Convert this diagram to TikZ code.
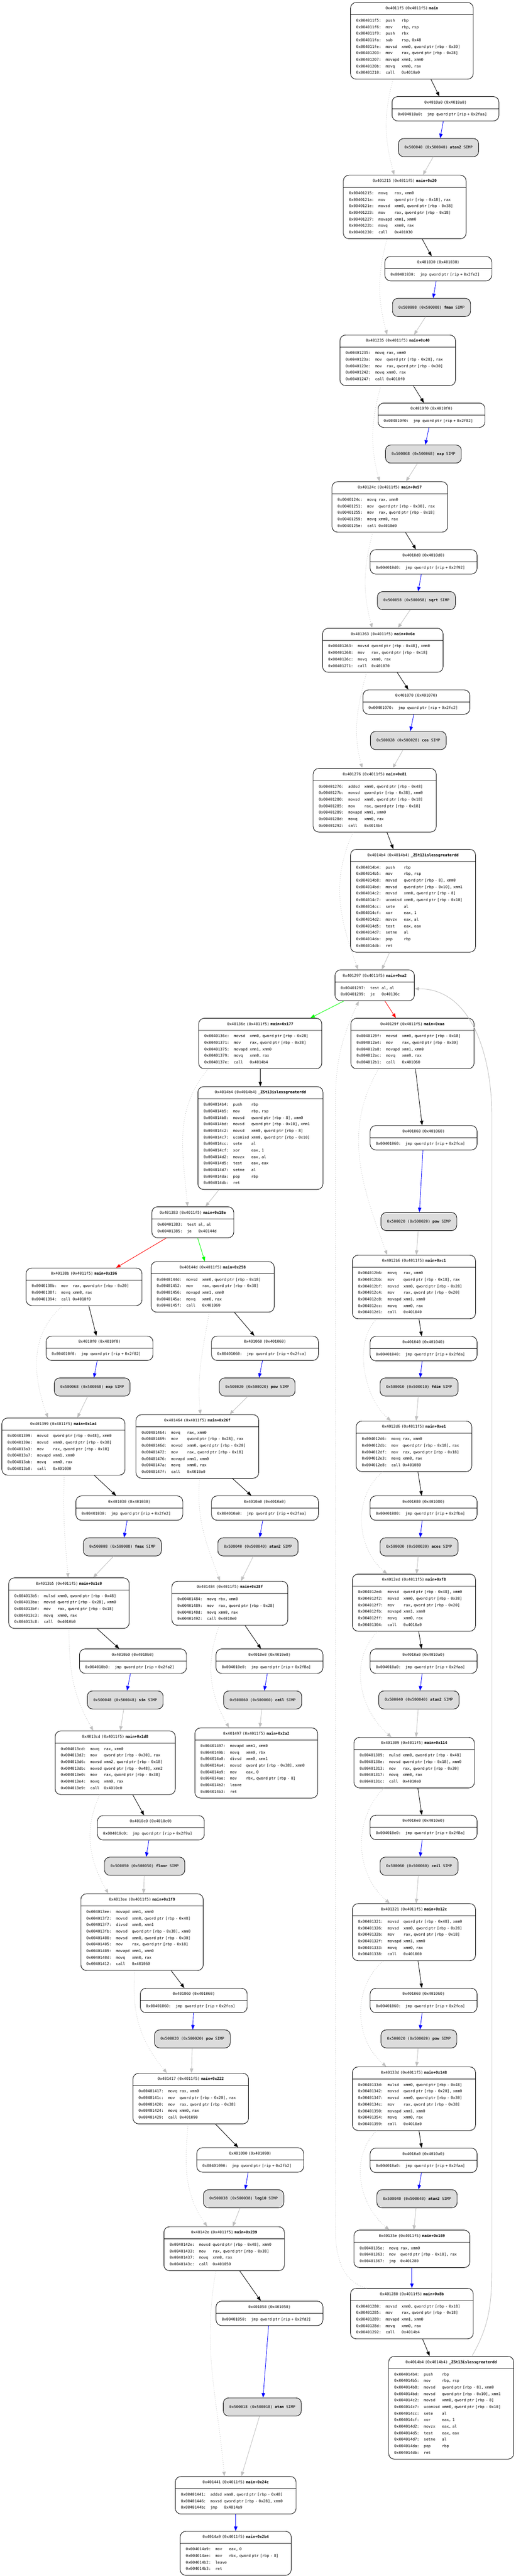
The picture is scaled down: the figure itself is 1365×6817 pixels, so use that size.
\documentclass[tikz,border=0pt]{standalone}
\usepackage{fontspec}
\setmonofont{DejaVu Sans Mono}
\usetikzlibrary{positioning,shapes.multipart,arrows.meta}

\definecolor{simpgray}{HTML}{DCDCDC}
\definecolor{edgegray}{HTML}{C0C0C0}
\definecolor{jmpblue}{HTML}{0000FF}
\definecolor{truegreen}{HTML}{00FF00}
\definecolor{falsered}{HTML}{FF0000}

\newlength\chw
\newcommand\blkfont{\ttfamily\fontsize{10}{17.3}\selectfont}
\newcommand\hd[1]{\makebox[\hsize]{\rule[-13pt]{0pt}{31pt}#1}}
\newcommand\asm[1]{\settowidth\chw{0}%
  \begin{tabular}{@{}l@{\hspace{2\chw}}l@{\hspace{\chw}}l@{}}%
  \rule{0pt}{18.3pt}\ignorespaces#1\unskip\rule[-12.9pt]{0pt}{12.9pt}\end{tabular}}

\begin{document}
\begin{tikzpicture}[
                x=1pt, y=1pt,
                block/.style={rectangle split, rectangle split parts=2, draw, line width=1.2pt,
                    rounded corners=15pt, inner xsep=15pt, inner ysep=0pt, anchor=north, font=\blkfont},
                stub/.style={block, text width=253pt},
                simp/.style={draw, line width=1.2pt, fill=simpgray, rounded corners=14pt,
                    minimum height=48pt, inner xsep=16pt, inner ysep=0pt, anchor=north, font=\blkfont},
                arr/.style={line width=1.2pt, -{Triangle[length=12pt,width=9pt]}},
                calledge/.style={arr, black},
                jmpedge/.style={arr, jmpblue},
                retedge/.style={arr, edgegray},
                falledge/.style={arr, edgegray, dash pattern=on 1.3pt off 4pt},
                trueedge/.style={arr, truegreen},
                falseedge/.style={arr, falsered}
            ]
                \fill[white] (0,0) rectangle (1365,-6817);
                \useasboundingbox (0,0) rectangle (1365,-6817);

                % main chain
                \node (main) [block, text width=295pt] at (1090.5,-6) {\hd{0x4011f5 (0x4011f5) \textbf{main}}\nodepart{two}\asm{
                    0x004011f5: & push & rbp\\
                    0x004011f6: & mov & rbp, rsp\\
                    0x004011f9: & push & rbx\\
                    0x004011fa: & sub & rsp, 0x48\\
                    0x004011fe: & movsd & xmm0, qword ptr [rbp - 0x30]\\
                    0x00401203: & mov & rax, qword ptr [rbp - 0x28]\\
                    0x00401207: & movapd & xmm1, xmm0\\
                    0x0040120b: & movq & xmm0, rax\\
                    0x00401210: & call & 0x4010a0}};
                \node (mainP) [stub] at (1179.5,-255) {\hd{0x4010a0 (0x4010a0)}\nodepart{two}\asm{0x004010a0: & jmp & qword ptr [rip + 0x2faa]}};
                \node (mainS) [simp] at (1161,-366) {0x500040 (0x500040) \textbf{atan2} SIMP};

                \node (m20) [block, text width=295pt] at (1071.5,-463) {\hd{0x401215 (0x4011f5) \textbf{main+0x20}}\nodepart{two}\asm{
                    0x00401215: & movq & rax, xmm0\\
                    0x0040121a: & mov & qword ptr [rbp - 0x18], rax\\
                    0x0040121e: & movsd & xmm0, qword ptr [rbp - 0x38]\\
                    0x00401223: & mov & rax, qword ptr [rbp - 0x18]\\
                    0x00401227: & movapd & xmm1, xmm0\\
                    0x0040122b: & movq & xmm0, rax\\
                    0x00401230: & call & 0x401030}};
                \node (m20P) [stub] at (1160.5,-678) {\hd{0x401030 (0x401030)}\nodepart{two}\asm{0x00401030: & jmp & qword ptr [rip + 0x2fe2]}};
                \node (m20S) [simp] at (1142.5,-789) {0x500008 (0x500008) \textbf{fmax} SIMP};

                \node (m40) [block, text width=276pt] at (1053,-886) {\hd{0x401235 (0x4011f5) \textbf{main+0x40}}\nodepart{two}\asm{
                    0x00401235: & movq & rax, xmm0\\
                    0x0040123a: & mov & qword ptr [rbp - 0x28], rax\\
                    0x0040123e: & mov & rax, qword ptr [rbp - 0x30]\\
                    0x00401242: & movq & xmm0, rax\\
                    0x00401247: & call & 0x4010f0}};
                \node (m40P) [stub] at (1142.5,-1066) {\hd{0x4010f0 (0x4010f0)}\nodepart{two}\asm{0x004010f0: & jmp & qword ptr [rip + 0x2f82]}};
                \node (m40S) [simp] at (1121,-1177) {0x500068 (0x500068) \textbf{exp} SIMP};

                \node (m57) [block, text width=276pt] at (1032,-1274) {\hd{0x40124c (0x4011f5) \textbf{main+0x57}}\nodepart{two}\asm{
                    0x0040124c: & movq & rax, xmm0\\
                    0x00401251: & mov & qword ptr [rbp - 0x30], rax\\
                    0x00401255: & mov & rax, qword ptr [rbp - 0x18]\\
                    0x00401259: & movq & xmm0, rax\\
                    0x0040125e: & call & 0x4010d0}};
                \node (m57P) [stub] at (1121.5,-1454) {\hd{0x4010d0 (0x4010d0)}\nodepart{two}\asm{0x004010d0: & jmp & qword ptr [rip + 0x2f92]}};
                \node (m57S) [simp] at (1102.5,-1565) {0x500058 (0x500058) \textbf{sqrt} SIMP};

                \node (m6e) [block, text width=289pt] at (1013.5,-1662) {\hd{0x401263 (0x4011f5) \textbf{main+0x6e}}\nodepart{two}\asm{
                    0x00401263: & movsd & qword ptr [rbp - 0x48], xmm0\\
                    0x00401268: & mov & rax, qword ptr [rbp - 0x18]\\
                    0x0040126c: & movq & xmm0, rax\\
                    0x00401271: & call & 0x401070}};
                \node (m6eP) [stub] at (1102.5,-1825) {\hd{0x401070 (0x401070)}\nodepart{two}\asm{0x00401070: & jmp & qword ptr [rip + 0x2fc2]}};
                \node (m6eS) [simp] at (1081,-1935) {0x500028 (0x500028) \textbf{cos} SIMP};

                \node (m81) [block, text width=296pt] at (992,-2033) {\hd{0x401276 (0x4011f5) \textbf{main+0x81}}\nodepart{two}\asm{
                    0x00401276: & addsd & xmm0, qword ptr [rbp - 0x48]\\
                    0x0040127b: & movsd & qword ptr [rbp - 0x38], xmm0\\
                    0x00401280: & movsd & xmm0, qword ptr [rbp - 0x18]\\
                    0x00401285: & mov & rax, qword ptr [rbp - 0x18]\\
                    0x00401289: & movapd & xmm1, xmm0\\
                    0x0040128d: & movq & xmm0, rax\\
                    0x00401292: & call & 0x4014b4}};
                \node (zA) [block, text width=301pt] at (1093.5,-2247) {\hd{0x4014b4 (0x4014b4) \textbf{\_ZSt13islessgreaterdd}}\nodepart{two}\asm{
                    0x004014b4: & push & rbp\\
                    0x004014b5: & mov & rbp, rsp\\
                    0x004014b8: & movsd & qword ptr [rbp - 8], xmm0\\
                    0x004014bd: & movsd & qword ptr [rbp - 0x10], xmm1\\
                    0x004014c2: & movsd & xmm0, qword ptr [rbp - 8]\\
                    0x004014c7: & ucomisd & xmm0, qword ptr [rbp - 0x10]\\
                    0x004014cc: & sete & al\\
                    0x004014cf: & xor & eax, 1\\
                    0x004014d2: & movzx & eax, al\\
                    0x004014d5: & test & eax, eax\\
                    0x004014d7: & setne & al\\
                    0x004014da: & pop & rbp\\
                    0x004014db: & ret}};
                \node (ma2) [block, text width=180pt] at (992,-2566) {\hd{0x401297 (0x4011f5) \textbf{main+0xa2}}\nodepart{two}\asm{
                    0x00401297: & test & al, al\\
                    0x00401299: & je & 0x40136c}};

                % loop body
                \node (maa) [block, text width=296pt] at (1092,-2694) {\hd{0x40129f (0x4011f5) \textbf{main+0xaa}}\nodepart{two}\asm{
                    0x0040129f: & movsd & xmm0, qword ptr [rbp - 0x18]\\
                    0x004012a4: & mov & rax, qword ptr [rbp - 0x30]\\
                    0x004012a8: & movapd & xmm1, xmm0\\
                    0x004012ac: & movq & xmm0, rax\\
                    0x004012b1: & call & 0x401060}};
                \node (maaP) [stub] at (1121.5,-2978) {\hd{0x401060 (0x401060)}\nodepart{two}\asm{0x00401060: & jmp & qword ptr [rip + 0x2fca]}};
                \node (maaS) [simp] at (1109,-3208) {0x500020 (0x500020) \textbf{pow} SIMP};

                \node (mc1) [block, text width=296pt] at (1096,-3321) {\hd{0x4012b6 (0x4011f5) \textbf{main+0xc1}}\nodepart{two}\asm{
                    0x004012b6: & movq & rax, xmm0\\
                    0x004012bb: & mov & qword ptr [rbp - 0x18], rax\\
                    0x004012bf: & movsd & xmm0, qword ptr [rbp - 0x28]\\
                    0x004012c4: & mov & rax, qword ptr [rbp - 0x20]\\
                    0x004012c8: & movapd & xmm1, xmm0\\
                    0x004012cc: & movq & xmm0, rax\\
                    0x004012d1: & call & 0x401040}};
                \node (mc1P) [stub] at (1121.5,-3536) {\hd{0x401040 (0x401040)}\nodepart{two}\asm{0x00401040: & jmp & qword ptr [rip + 0x2fda]}};
                \node (mc1S) [simp] at (1109.5,-3646) {0x500010 (0x500010) \textbf{fdim} SIMP};

                \node (me1) [block, text width=276pt] at (1096,-3760) {\hd{0x4012d6 (0x4011f5) \textbf{main+0xe1}}\nodepart{two}\asm{
                    0x004012d6: & movq & rax, xmm0\\
                    0x004012db: & mov & qword ptr [rbp - 0x18], rax\\
                    0x004012df: & mov & rax, qword ptr [rbp - 0x18]\\
                    0x004012e3: & movq & xmm0, rax\\
                    0x004012e8: & call & 0x401080}};
                \node (me1P) [stub] at (1121.5,-3958) {\hd{0x401080 (0x401080)}\nodepart{two}\asm{0x00401080: & jmp & qword ptr [rip + 0x2fba]}};
                \node (me1S) [simp] at (1109.5,-4069) {0x500030 (0x500030) \textbf{acos} SIMP};

                \node (mf8) [block, text width=296pt] at (1096,-4165) {\hd{0x4012ed (0x4011f5) \textbf{main+0xf8}}\nodepart{two}\asm{
                    0x004012ed: & movsd & qword ptr [rbp - 0x48], xmm0\\
                    0x004012f2: & movsd & xmm0, qword ptr [rbp - 0x38]\\
                    0x004012f7: & mov & rax, qword ptr [rbp - 0x20]\\
                    0x004012fb: & movapd & xmm1, xmm0\\
                    0x004012ff: & movq & xmm0, rax\\
                    0x00401304: & call & 0x4010a0}};
                \node (mf8P) [stub] at (1121.5,-4363) {\hd{0x4010a0 (0x4010a0)}\nodepart{two}\asm{0x004010a0: & jmp & qword ptr [rip + 0x2faa]}};
                \node (mf8S) [simp] at (1109,-4474) {0x500040 (0x500040) \textbf{atan2} SIMP};

                \node (m114) [block, text width=289pt] at (1096.5,-4597) {\hd{0x401309 (0x4011f5) \textbf{main+0x114}}\nodepart{two}\asm{
                    0x00401309: & mulsd & xmm0, qword ptr [rbp - 0x48]\\
                    0x0040130e: & movsd & qword ptr [rbp - 0x18], xmm0\\
                    0x00401313: & mov & rax, qword ptr [rbp - 0x30]\\
                    0x00401317: & movq & xmm0, rax\\
                    0x0040131c: & call & 0x4010e0}};
                \node (m114P) [stub] at (1121.5,-4803) {\hd{0x4010e0 (0x4010e0)}\nodepart{two}\asm{0x004010e0: & jmp & qword ptr [rip + 0x2f8a]}};
                \node (m114S) [simp] at (1109.5,-4914) {0x500060 (0x500060) \textbf{ceil} SIMP};

                \node (m12c) [block, text width=296pt] at (1096,-5037) {\hd{0x401321 (0x4011f5) \textbf{main+0x12c}}\nodepart{two}\asm{
                    0x00401321: & movsd & qword ptr [rbp - 0x48], xmm0\\
                    0x00401326: & movsd & xmm0, qword ptr [rbp - 0x28]\\
                    0x0040132b: & mov & rax, qword ptr [rbp - 0x18]\\
                    0x0040132f: & movapd & xmm1, xmm0\\
                    0x00401333: & movq & xmm0, rax\\
                    0x00401338: & call & 0x401060}};
                \node (m12cP) [stub] at (1121.5,-5261) {\hd{0x401060 (0x401060)}\nodepart{two}\asm{0x00401060: & jmp & qword ptr [rip + 0x2fca]}};
                \node (m12cS) [simp] at (1109,-5371) {0x500020 (0x500020) \textbf{pow} SIMP};

                \node (m148) [block, text width=296pt] at (1096,-5469) {\hd{0x40133d (0x4011f5) \textbf{main+0x148}}\nodepart{two}\asm{
                    0x0040133d: & mulsd & xmm0, qword ptr [rbp - 0x48]\\
                    0x00401342: & movsd & qword ptr [rbp - 0x20], xmm0\\
                    0x00401347: & movsd & xmm0, qword ptr [rbp - 0x30]\\
                    0x0040134c: & mov & rax, qword ptr [rbp - 0x38]\\
                    0x00401350: & movapd & xmm1, xmm0\\
                    0x00401354: & movq & xmm0, rax\\
                    0x00401359: & call & 0x4010a0}};
                \node (m148P) [stub] at (1121.5,-5684) {\hd{0x4010a0 (0x4010a0)}\nodepart{two}\asm{0x004010a0: & jmp & qword ptr [rip + 0x2faa]}};
                \node (m148S) [simp] at (1104,-5794) {0x500040 (0x500040) \textbf{atan2} SIMP};

                \node (m169) [block, text width=277pt] at (1090.5,-5901) {\hd{0x40135e (0x4011f5) \textbf{main+0x169}}\nodepart{two}\asm{
                    0x0040135e: & movq & rax, xmm0\\
                    0x00401363: & mov & qword ptr [rbp - 0x18], rax\\
                    0x00401367: & jmp & 0x401280}};
                \node (m8b) [block, text width=295pt] at (1090.5,-6055) {\hd{0x401280 (0x4011f5) \textbf{main+0x8b}}\nodepart{two}\asm{
                    0x00401280: & movsd & xmm0, qword ptr [rbp - 0x18]\\
                    0x00401285: & mov & rax, qword ptr [rbp - 0x18]\\
                    0x00401289: & movapd & xmm1, xmm0\\
                    0x0040128d: & movq & xmm0, rax\\
                    0x00401292: & call & 0x4014b4}};
                \node (zC) [block, text width=301pt] at (1194.5,-6235) {\hd{0x4014b4 (0x4014b4) \textbf{\_ZSt13islessgreaterdd}}\nodepart{two}\asm{
                    0x004014b4: & push & rbp\\
                    0x004014b5: & mov & rbp, rsp\\
                    0x004014b8: & movsd & qword ptr [rbp - 8], xmm0\\
                    0x004014bd: & movsd & qword ptr [rbp - 0x10], xmm1\\
                    0x004014c2: & movsd & xmm0, qword ptr [rbp - 8]\\
                    0x004014c7: & ucomisd & xmm0, qword ptr [rbp - 0x10]\\
                    0x004014cc: & sete & al\\
                    0x004014cf: & xor & eax, 1\\
                    0x004014d2: & movzx & eax, al\\
                    0x004014d5: & test & eax, eax\\
                    0x004014d7: & setne & al\\
                    0x004014da: & pop & rbp\\
                    0x004014db: & ret}};

                % after the loop
                \node (m177) [block, text width=296pt] at (689,-2694) {\hd{0x40136c (0x4011f5) \textbf{main+0x177}}\nodepart{two}\asm{
                    0x0040136c: & movsd & xmm0, qword ptr [rbp - 0x28]\\
                    0x00401371: & mov & rax, qword ptr [rbp - 0x38]\\
                    0x00401375: & movapd & xmm1, xmm0\\
                    0x00401379: & movq & xmm0, rax\\
                    0x0040137e: & call & 0x4014b4}};
                \node (zB) [block, text width=301pt] at (689.5,-2875) {\hd{0x4014b4 (0x4014b4) \textbf{\_ZSt13islessgreaterdd}}\nodepart{two}\asm{
                    0x004014b4: & push & rbp\\
                    0x004014b5: & mov & rbp, rsp\\
                    0x004014b8: & movsd & qword ptr [rbp - 8], xmm0\\
                    0x004014bd: & movsd & qword ptr [rbp - 0x10], xmm1\\
                    0x004014c2: & movsd & xmm0, qword ptr [rbp - 8]\\
                    0x004014c7: & ucomisd & xmm0, qword ptr [rbp - 0x10]\\
                    0x004014cc: & sete & al\\
                    0x004014cf: & xor & eax, 1\\
                    0x004014d2: & movzx & eax, al\\
                    0x004014d5: & test & eax, eax\\
                    0x004014d7: & setne & al\\
                    0x004014da: & pop & rbp\\
                    0x004014db: & ret}};
                \node (m18e) [block, text width=187pt] at (510.5,-3193) {\hd{0x401383 (0x4011f5) \textbf{main+0x18e}}\nodepart{two}\asm{
                    0x00401383: & test & al, al\\
                    0x00401385: & je & 0x40144d}};

                \node (m196) [block, text width=277pt] at (222.5,-3355) {\hd{0x40138b (0x4011f5) \textbf{main+0x196}}\nodepart{two}\asm{
                    0x0040138b: & mov & rax, qword ptr [rbp - 0x20]\\
                    0x0040138f: & movq & xmm0, rax\\
                    0x00401394: & call & 0x4010f0}};
                \node (m196P) [stub] at (263.5,-3535) {\hd{0x4010f0 (0x4010f0)}\nodepart{two}\asm{0x004010f0: & jmp & qword ptr [rip + 0x2f82]}};
                \node (m196S) [simp] at (244,-3646) {0x500068 (0x500068) \textbf{exp} SIMP};

                \node (m1a4) [block, text width=296pt] at (168,-3752) {\hd{0x401399 (0x4011f5) \textbf{main+0x1a4}}\nodepart{two}\asm{
                    0x00401399: & movsd & qword ptr [rbp - 0x48], xmm0\\
                    0x0040139e: & movsd & xmm0, qword ptr [rbp - 0x38]\\
                    0x004013a3: & mov & rax, qword ptr [rbp - 0x18]\\
                    0x004013a7: & movapd & xmm1, xmm0\\
                    0x004013ab: & movq & xmm0, rax\\
                    0x004013b0: & call & 0x401030}};
                \node (m1a4P) [stub] at (342.5,-3958) {\hd{0x401030 (0x401030)}\nodepart{two}\asm{0x00401030: & jmp & qword ptr [rip + 0x2fe2]}};
                \node (m1a4S) [simp] at (324,-4069) {0x500008 (0x500008) \textbf{fmax} SIMP};

                \node (m1c0) [block, text width=289pt] at (182.5,-4175) {\hd{0x4013b5 (0x4011f5) \textbf{main+0x1c0}}\nodepart{two}\asm{
                    0x004013b5: & mulsd & xmm0, qword ptr [rbp - 0x48]\\
                    0x004013ba: & movsd & qword ptr [rbp - 0x28], xmm0\\
                    0x004013bf: & mov & rax, qword ptr [rbp - 0x18]\\
                    0x004013c3: & movq & xmm0, rax\\
                    0x004013c8: & call & 0x4010b0}};
                \node (m1c0P) [stub] at (352,-4363) {\hd{0x4010b0 (0x4010b0)}\nodepart{two}\asm{0x004010b0: & jmp & qword ptr [rip + 0x2fa2]}};
                \node (m1c0S) [simp] at (331.5,-4474) {0x500048 (0x500048) \textbf{sin} SIMP};

                \node (m1d8) [block, text width=288pt] at (305,-4580) {\hd{0x4013cd (0x4011f5) \textbf{main+0x1d8}}\nodepart{two}\asm{
                    0x004013cd: & movq & rax, xmm0\\
                    0x004013d2: & mov & qword ptr [rbp - 0x30], rax\\
                    0x004013d6: & movsd & xmm2, qword ptr [rbp - 0x18]\\
                    0x004013db: & movsd & qword ptr [rbp - 0x48], xmm2\\
                    0x004013e0: & mov & rax, qword ptr [rbp - 0x38]\\
                    0x004013e4: & movq & xmm0, rax\\
                    0x004013e9: & call & 0x4010c0}};
                \node (m1d8P) [stub] at (399.5,-4804) {\hd{0x4010c0 (0x4010c0)}\nodepart{two}\asm{0x004010c0: & jmp & qword ptr [rip + 0x2f9a]}};
                \node (m1d8S) [simp] at (383,-4914) {0x500050 (0x500050) \textbf{floor} SIMP};

                \node (m1f9) [block, text width=294pt] at (376,-5011) {\hd{0x4013ee (0x4011f5) \textbf{main+0x1f9}}\nodepart{two}\asm{
                    0x004013ee: & movapd & xmm1, xmm0\\
                    0x004013f2: & movsd & xmm0, qword ptr [rbp - 0x48]\\
                    0x004013f7: & divsd & xmm0, xmm1\\
                    0x004013fb: & movsd & qword ptr [rbp - 0x38], xmm0\\
                    0x00401400: & movsd & xmm0, qword ptr [rbp - 0x30]\\
                    0x00401405: & mov & rax, qword ptr [rbp - 0x18]\\
                    0x00401409: & movapd & xmm1, xmm0\\
                    0x0040140d: & movq & xmm0, rax\\
                    0x00401412: & call & 0x401060}};
                \node (m1f9P) [stub] at (513,-5261) {\hd{0x401060 (0x401060)}\nodepart{two}\asm{0x00401060: & jmp & qword ptr [rip + 0x2fca]}};
                \node (m1f9S) [simp] at (509.5,-5371) {0x500020 (0x500020) \textbf{pow} SIMP};

                \node (m222) [block, text width=276pt] at (505,-5486) {\hd{0x401417 (0x4011f5) \textbf{main+0x222}}\nodepart{two}\asm{
                    0x00401417: & movq & rax, xmm0\\
                    0x0040141c: & mov & qword ptr [rbp - 0x20], rax\\
                    0x00401420: & mov & rax, qword ptr [rbp - 0x38]\\
                    0x00401424: & movq & xmm0, rax\\
                    0x00401429: & call & 0x401090}};
                \node (m222P) [stub] at (662.5,-5683) {\hd{0x401090 (0x401090)}\nodepart{two}\asm{0x00401090: & jmp & qword ptr [rip + 0x2fb2]}};
                \node (m222S) [simp] at (645,-5794) {0x500038 (0x500038) \textbf{log10} SIMP};

                \node (m239) [block, text width=289pt] at (593.5,-5892) {\hd{0x40142e (0x4011f5) \textbf{main+0x239}}\nodepart{two}\asm{
                    0x0040142e: & movsd & qword ptr [rbp - 0x48], xmm0\\
                    0x00401433: & mov & rax, qword ptr [rbp - 0x38]\\
                    0x00401437: & movq & xmm0, rax\\
                    0x0040143c: & call & 0x401050}};
                \node (m239P) [stub] at (713.5,-6089) {\hd{0x401050 (0x401050)}\nodepart{two}\asm{0x00401050: & jmp & qword ptr [rip + 0x2fd2]}};
                \node (m239S) [simp] at (694.5,-6345) {0x500018 (0x500018) \textbf{atan} SIMP};

                \node (m24c) [block, text width=290pt] at (624,-6553) {\hd{0x401441 (0x4011f5) \textbf{main+0x24c}}\nodepart{two}\asm{
                    0x00401441: & addsd & xmm0, qword ptr [rbp - 0x48]\\
                    0x00401446: & movsd & qword ptr [rbp - 0x28], xmm0\\
                    0x0040144b: & jmp & 0x4014a9}};
                \node (m2b4) [block, text width=264pt] at (624,-6698) {\hd{0x4014a9 (0x4011f5) \textbf{main+0x2b4}}\nodepart{two}\asm{
                    0x004014a9: & mov & eax, 0\\
                    0x004014ae: & mov & rbx, qword ptr [rbp - 8]\\
                    0x004014b2: & leave & \\
                    0x004014b3: & ret & }};

                \node (m258) [block, text width=296pt] at (563,-3338) {\hd{0x40144d (0x4011f5) \textbf{main+0x258}}\nodepart{two}\asm{
                    0x0040144d: & movsd & xmm0, qword ptr [rbp - 0x18]\\
                    0x00401452: & mov & rax, qword ptr [rbp - 0x38]\\
                    0x00401456: & movapd & xmm1, xmm0\\
                    0x0040145a: & movq & xmm0, rax\\
                    0x0040145f: & call & 0x401060}};
                \node (m258P) [stub] at (701.5,-3535) {\hd{0x401060 (0x401060)}\nodepart{two}\asm{0x00401060: & jmp & qword ptr [rip + 0x2fca]}};
                \node (m258S) [simp] at (681,-3646) {0x500020 (0x500020) \textbf{pow} SIMP};

                \node (m26f) [block, text width=295pt] at (522.5,-3743) {\hd{0x401464 (0x4011f5) \textbf{main+0x26f}}\nodepart{two}\asm{
                    0x00401464: & movq & rax, xmm0\\
                    0x00401469: & mov & qword ptr [rbp - 0x28], rax\\
                    0x0040146d: & movsd & xmm0, qword ptr [rbp - 0x20]\\
                    0x00401472: & mov & rax, qword ptr [rbp - 0x18]\\
                    0x00401476: & movapd & xmm1, xmm0\\
                    0x0040147a: & movq & xmm0, rax\\
                    0x0040147f: & call & 0x4010a0}};
                \node (m26fP) [stub] at (701.5,-3958) {\hd{0x4010a0 (0x4010a0)}\nodepart{two}\asm{0x004010a0: & jmp & qword ptr [rip + 0x2faa]}};
                \node (m26fS) [simp] at (683,-4069) {0x500040 (0x500040) \textbf{atan2} SIMP};

                \node (m28f) [block, text width=277pt] at (608.5,-4184) {\hd{0x401484 (0x4011f5) \textbf{main+0x28f}}\nodepart{two}\asm{
                    0x00401484: & movq & rbx, xmm0\\
                    0x00401489: & mov & rax, qword ptr [rbp - 0x28]\\
                    0x0040148d: & movq & xmm0, rax\\
                    0x00401492: & call & 0x4010e0}};
                \node (m28fP) [stub] at (713.5,-4363) {\hd{0x4010e0 (0x4010e0)}\nodepart{two}\asm{0x004010e0: & jmp & qword ptr [rip + 0x2f8a]}};
                \node (m28fS) [simp] at (695.5,-4474) {0x500060 (0x500060) \textbf{ceil} SIMP};

                \node (m2a2) [block, text width=295pt] at (678.5,-4572) {\hd{0x401497 (0x4011f5) \textbf{main+0x2a2}}\nodepart{two}\asm{
                    0x00401497: & movapd & xmm1, xmm0\\
                    0x0040149b: & movq & xmm0, rbx\\
                    0x004014a0: & divsd & xmm0, xmm1\\
                    0x004014a4: & movsd & qword ptr [rbp - 0x38], xmm0\\
                    0x004014a9: & mov & eax, 0\\
                    0x004014ae: & mov & rbx, qword ptr [rbp - 8]\\
                    0x004014b2: & leave & \\
                    0x004014b3: & ret & }};

                \coordinate (fbA) at (888,-5900);
                \coordinate (fbB) at (888,-2920);
                \coordinate (rtA) at (1302,-6000);
                \coordinate (rtB) at (1302,-2950);

                % calls
                \draw[calledge] (main) -- (mainP);
                \draw[calledge] (m20) -- (m20P);
                \draw[calledge] (m40) -- (m40P);
                \draw[calledge] (m57) -- (m57P);
                \draw[calledge] (m6e) -- (m6eP);
                \draw[calledge] (m81) -- (zA);
                \draw[calledge] (maa) -- (maaP);
                \draw[calledge] (mc1) -- (mc1P);
                \draw[calledge] (me1) -- (me1P);
                \draw[calledge] (mf8) -- (mf8P);
                \draw[calledge] (m114) -- (m114P);
                \draw[calledge] (m12c) -- (m12cP);
                \draw[calledge] (m148) -- (m148P);
                \draw[calledge] (m8b) -- (zC);
                \draw[calledge] (m177) -- (zB);
                \draw[calledge] (m196) -- (m196P);
                \draw[calledge] (m1a4) -- (m1a4P);
                \draw[calledge] (m1c0) -- (m1c0P);
                \draw[calledge] (m1d8) -- (m1d8P);
                \draw[calledge] (m1f9) -- (m1f9P);
                \draw[calledge] (m222) -- (m222P);
                \draw[calledge] (m239) -- (m239P);
                \draw[calledge] (m258) -- (m258P);
                \draw[calledge] (m26f) -- (m26fP);
                \draw[calledge] (m28f) -- (m28fP);

                % jumps
                \draw[jmpedge] (mainP) -- (mainS);
                \draw[jmpedge] (m20P) -- (m20S);
                \draw[jmpedge] (m40P) -- (m40S);
                \draw[jmpedge] (m57P) -- (m57S);
                \draw[jmpedge] (m6eP) -- (m6eS);
                \draw[jmpedge] (maaP) -- (maaS);
                \draw[jmpedge] (mc1P) -- (mc1S);
                \draw[jmpedge] (me1P) -- (me1S);
                \draw[jmpedge] (mf8P) -- (mf8S);
                \draw[jmpedge] (m114P) -- (m114S);
                \draw[jmpedge] (m12cP) -- (m12cS);
                \draw[jmpedge] (m148P) -- (m148S);
                \draw[jmpedge] (m196P) -- (m196S);
                \draw[jmpedge] (m1a4P) -- (m1a4S);
                \draw[jmpedge] (m1c0P) -- (m1c0S);
                \draw[jmpedge] (m1d8P) -- (m1d8S);
                \draw[jmpedge] (m1f9P) -- (m1f9S);
                \draw[jmpedge] (m222P) -- (m222S);
                \draw[jmpedge] (m239P) -- (m239S);
                \draw[jmpedge] (m258P) -- (m258S);
                \draw[jmpedge] (m26fP) -- (m26fS);
                \draw[jmpedge] (m28fP) -- (m28fS);
                \draw[jmpedge] (m169) -- (m8b);
                \draw[jmpedge] (m24c) -- (m2b4);

                % returns
                \draw[retedge] (mainS) -- (m20);
                \draw[retedge] (m20S) -- (m40);
                \draw[retedge] (m40S) -- (m57);
                \draw[retedge] (m57S) -- (m6e);
                \draw[retedge] (m6eS) -- (m81);
                \draw[retedge] (zA) -- (ma2);
                \draw[retedge] (maaS) -- (mc1);
                \draw[retedge] (mc1S) -- (me1);
                \draw[retedge] (me1S) -- (mf8);
                \draw[retedge] (mf8S) -- (m114);
                \draw[retedge] (m114S) -- (m12c);
                \draw[retedge] (m12cS) -- (m148);
                \draw[retedge] (m148S) -- (m169);
                \draw[retedge] ([xshift=55pt]zC.north) to[out=60,in=-90] (rtA) -- (rtB) to[out=90,in=0] ([yshift=-9pt]ma2.east);
                \draw[retedge] (zB) -- (m18e);
                \draw[retedge] (m196S) -- (m1a4);
                \draw[retedge] (m1a4S) -- (m1c0);
                \draw[retedge] (m1c0S) -- (m1d8);
                \draw[retedge] (m1d8S) -- (m1f9);
                \draw[retedge] (m1f9S) -- (m222);
                \draw[retedge] (m222S) -- (m239);
                \draw[retedge] (m239S) -- (m24c);
                \draw[retedge] (m258S) -- (m26f);
                \draw[retedge] (m26fS) -- (m28f);
                \draw[retedge] (m28fS) -- (m2a2);

                % branches
                \draw[trueedge] (ma2) -- (m177);
                \draw[falseedge] (ma2) -- (maa);
                \draw[falseedge] (m18e) -- (m196);
                \draw[trueedge] (m18e) -- (m258);

                % fall through
                \draw[falledge] ([xshift=-50pt]main.south) to[out=-105,in=105] ([xshift=-28pt]m20.north);
                \draw[falledge] ([xshift=-47pt]m20.south) to[out=-105,in=105] ([xshift=-28pt]m40.north);
                \draw[falledge] ([xshift=-45pt]m40.south) to[out=-105,in=105] ([xshift=-27pt]m57.north);
                \draw[falledge] ([xshift=-45pt]m57.south) to[out=-105,in=105] ([xshift=-28pt]m6e.north);
                \draw[falledge] ([xshift=-43pt]m6e.south) to[out=-105,in=105] ([xshift=-33pt]m81.north);
                \draw[falledge] ([xshift=-57pt]m81.south) to[out=-115,in=110] ([xshift=-44pt]ma2.north);
                \draw[falledge] ([xshift=-90pt]maa.south) to[out=-120,in=110] ([xshift=-71pt]mc1.north);
                \draw[falledge] ([xshift=-99pt]mc1.south) to[out=-135,in=140,looseness=.85] ([xshift=-61pt]me1.north);
                \draw[falledge] ([xshift=-83pt]me1.south) to[out=-140,in=140] ([xshift=-71pt]mf8.north);
                \draw[falledge] ([xshift=-96pt]mf8.south) to[out=-135,in=140] ([xshift=-60pt]m114.north);
                \draw[falledge] ([xshift=-80pt]m114.south) to[out=-135,in=140] ([xshift=-64pt]m12c.north);
                \draw[falledge] ([xshift=-81pt]m12c.south) to[out=-140,in=140] ([xshift=-73pt]m148.north);
                \draw[falledge] ([xshift=-99pt]m148.south) to[out=-135,in=140] ([xshift=-60pt]m169.north);
                \draw[falledge] ([xshift=-120pt]m8b.north) to[out=165,in=-90] (fbA) -- (fbB) to[out=90,in=-115] ([xshift=-42pt]ma2.south);
                \draw[falledge] ([xshift=-138pt]m177.south) to[out=-130,in=95] ([xshift=-14pt]m18e.north);
                \draw[falledge] ([xshift=-56pt]m196.south) to[out=-140,in=110] ([xshift=-41pt]m1a4.north);
                \draw[falledge] ([xshift=2pt]m1a4.south) to[out=-92,in=95] ([xshift=-2pt]m1c0.north);
                \draw[falledge] ([xshift=0pt]m1c0.south) to[out=-90,in=120] ([xshift=-58pt]m1d8.north);
                \draw[falledge] ([xshift=-41pt]m1d8.south) to[out=-115,in=120] ([xshift=-89pt]m1f9.north);
                \draw[falledge] ([xshift=-19pt]m1f9.south) to[out=-95,in=130] ([xshift=-63pt]m222.north);
                \draw[falledge] ([xshift=-7pt]m222.south) to[out=-95,in=125] ([xshift=-45pt]m239.north);
                \draw[falledge] ([xshift=-22pt]m239.south) to[out=-100,in=95] ([xshift=-30pt]m24c.north);
                \draw[falledge] ([xshift=-9pt]m258.south) to[out=-100,in=95] ([xshift=8pt]m26f.north);
                \draw[falledge] ([xshift=6pt]m26f.south) to[out=-95,in=110] ([xshift=-26pt]m28f.north);
                \draw[falledge] ([xshift=-28pt]m28f.south) to[out=-110,in=120] ([xshift=-72pt]m2a2.north);
            \end{tikzpicture}
\end{document}
